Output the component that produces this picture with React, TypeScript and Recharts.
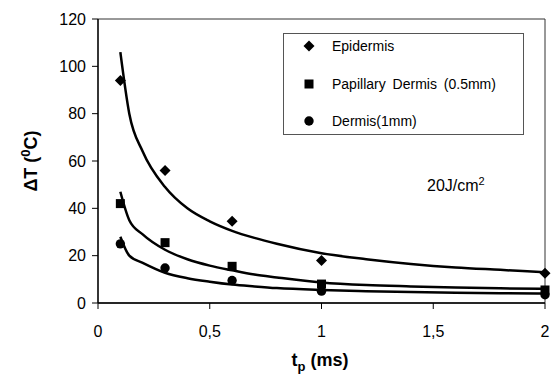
import React from 'react';
import { ComposedChart, Line, Scatter, XAxis, YAxis, ReferenceArea, Label } from 'recharts';

// measured points
const tpMeasured = [0.1, 0.3, 0.6, 1, 2];
const epidermisMeasured = [94, 56, 34.5, 18, 12.6];
const papillaryMeasured = [42, 25.5, 15.5, 8, 5.5];
const dermisMeasured = [25, 14.8, 9.5, 5, 3.5];

// fitted curves
const tpCurve = [0.1, 0.14, 0.2, 0.3, 0.4, 0.5, 0.6, 0.7, 0.8, 1.0, 1.2, 1.4, 1.6, 1.8, 2.0];
const epidermisCurve = [106, 80, 64, 49, 40, 34.5, 30.5, 27.5, 25, 21, 18.5, 16.5, 15, 14, 13];
const papillaryCurve = [47, 35, 29, 22.5, 18.5, 15.8, 13.8, 12, 10.8, 8.7, 7.6, 7, 6.5, 6.2, 6];
const dermisCurve = [28, 20, 17, 12.8, 10.5, 9, 7.8, 7, 6.3, 5.5, 5, 4.6, 4.3, 4.1, 4];

const xTicks = [0, 0.5, 1, 1.5, 2];
const yTicks = [0, 20, 40, 60, 80, 100, 120];

const legendItems = ['Epidermis', 'Papillary Dermis (0.5mm)', 'Dermis(1mm)'];

const toRows = (xs: number[], ys: number[]) => xs.map((x, i) => ({ x, y: ys[i] }));

const FONT = '"Liberation Sans", Arial, sans-serif';

const Diamond = (props: any) => {
  const { cx, cy } = props;
  const r = 5.5;
  return <path d={`M${cx},${cy - r}L${cx + r},${cy}L${cx},${cy + r}L${cx - r},${cy}Z`} fill="#000" />;
};
const Square = (props: any) => {
  const { cx, cy } = props;
  return <rect x={cx - 4.5} y={cy - 4.5} width={9} height={9} fill="#000" />;
};
const Dot = (props: any) => {
  const { cx, cy } = props;
  return <circle cx={cx} cy={cy} r={4.7} fill="#000" />;
};

const markers = [Diamond, Square, Dot];

const LegendBox = () => (
  <div style={{ position: 'absolute', left: 283, top: 33, border: '1px solid #555', width: 241, height: 102, boxSizing: 'border-box', fontFamily: FONT, fontSize: 14, wordSpacing: 3, color: '#000' }}>
    {legendItems.map((name, i) => {
      const M = markers[i];
      return (
        <div key={name} style={{ position: 'absolute', left: 0, top: 2 + i * 37.5, height: 20, display: 'flex', alignItems: 'center', whiteSpace: 'nowrap' }}>
          <svg width={40} height={20}>
            <M cx={25} cy={10} />
          </svg>
          <span style={{ marginLeft: 8 }}>{name}</span>
        </div>
      );
    })}
  </div>
);

export default function App() {
  return (
    <div style={{ position: 'absolute', left: 0, top: 0, width: 551, height: 374, background: '#fff' }}>
      <ComposedChart width={551} height={374} margin={{ top: 19, right: 6, bottom: 0, left: 0 }}>
        <XAxis
          type="number"
          dataKey="x"
          domain={[0, 2]}
          ticks={xTicks}
          tickFormatter={(v: number) => String(v).replace('.', ',')}
          axisLine={{ stroke: '#000', strokeWidth: 1.3 }}
          tickLine={{ stroke: '#000' }}
          tickSize={6}
          tickMargin={17}
          height={71}
          tick={{ fill: '#000', fontSize: 16, fontFamily: FONT }}
        >
          <Label
            content={() => (
              <text x={320} y={366} textAnchor="middle" fontFamily={FONT} fontWeight="bold" fontSize={18} fill="#000">
                t<tspan fontSize={13} dy={5}>p</tspan>
                <tspan dy={-5}> (ms)</tspan>
              </text>
            )}
          />
        </XAxis>
        <YAxis
          type="number"
          dataKey="y"
          domain={[0, 120]}
          ticks={yTicks}
          axisLine={{ stroke: '#000', strokeWidth: 1.3 }}
          tickLine={{ stroke: '#000' }}
          tickSize={6}
          tickMargin={6}
          width={98}
          tick={{ fill: '#000', fontSize: 16, fontFamily: FONT }}
        >
          <Label
            content={() => (
              <text x={37} y={161} transform="rotate(-90 37 161)" textAnchor="middle" fontFamily={FONT} fontWeight="bold" fontSize={18} fill="#000">
                ΔT (<tspan fontSize={13} dy={-7}>0</tspan>
                <tspan dy={7}>C)</tspan>
              </text>
            )}
          />
        </YAxis>
        <ReferenceArea x1={0} x2={2} y1={0} y2={120} fill="none" stroke="#333" strokeWidth={1} ifOverflow="visible" />
        <Line data={toRows(tpCurve, epidermisCurve)} dataKey="y" type="monotone" stroke="#000" strokeWidth={2.5} dot={false} isAnimationActive={false} />
        <Line data={toRows(tpCurve, papillaryCurve)} dataKey="y" type="monotone" stroke="#000" strokeWidth={2.5} dot={false} isAnimationActive={false} />
        <Line data={toRows(tpCurve, dermisCurve)} dataKey="y" type="monotone" stroke="#000" strokeWidth={2.5} dot={false} isAnimationActive={false} />
        <Scatter name="Epidermis" data={toRows(tpMeasured, epidermisMeasured)} shape={Diamond} isAnimationActive={false} />
        <Scatter name="Papillary Dermis (0.5mm)" data={toRows(tpMeasured, papillaryMeasured)} shape={Square} isAnimationActive={false} />
        <Scatter name="Dermis(1mm)" data={toRows(tpMeasured, dermisMeasured)} shape={Dot} isAnimationActive={false} />
      </ComposedChart>
      <LegendBox />
      <div style={{ position: 'absolute', left: 427, top: 175, fontFamily: FONT, fontSize: 16, color: '#000', whiteSpace: 'nowrap' }}>
        20J/cm<sup style={{ fontSize: 11 }}>2</sup>
      </div>
    </div>
  );
}
